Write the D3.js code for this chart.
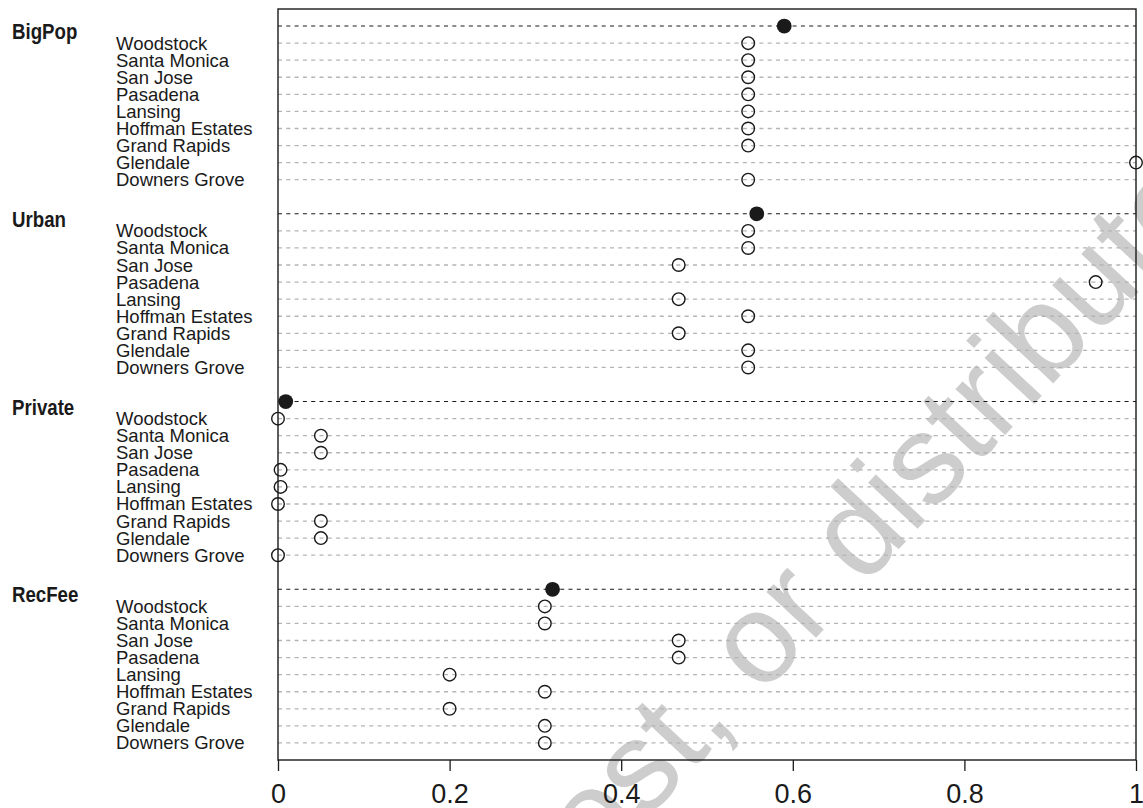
<!DOCTYPE html>
<html lang="en">
<head>
  <meta charset="UTF-8">
  <title>Dot chart by group</title>
  <script src="https://d3js.org/d3.v7.min.js"></script>
  <style>
    body { margin: 0; padding: 0; background: #fff; }
    svg { display: block; }
    .city { font-family: "Liberation Sans", Arial, sans-serif; font-size: 18.5px; fill: #1a1a1a; }
    .group { font-family: "Liberation Sans Narrow", "Liberation Sans", Arial, sans-serif; font-weight: bold; font-size: 22.5px; fill: #1a1a1a; }
    .x-axis text { font-family: "Liberation Sans", Arial, sans-serif; font-size: 27px; fill: #1a1a1a; }
    .x-axis line { stroke: #1a1a1a; stroke-width: 1.3px; }
  </style>
</head>
<body>
  <svg width="1143" height="808"></svg>
  <script>
    const groups = ["BigPop", "Urban", "Private", "RecFee"];
    const cities = ["Woodstock", "Santa Monica", "San Jose", "Pasadena", "Lansing",
                    "Hoffman Estates", "Grand Rapids", "Glendale", "Downers Grove"];
    const groupValues = [0.59, 0.558, 0.009, 0.32];
    const bigPop  = [0.548, 0.548, 0.548, 0.548, 0.548, 0.548, 0.548, 1.0, 0.548];
    const urban   = [0.548, 0.548, 0.467, 0.953, 0.467, 0.548, 0.467, 0.548, 0.548];
    const priv    = [0, 0.05, 0.05, 0.003, 0.003, 0, 0.05, 0.05, 0];
    const recFee  = [0.311, 0.311, 0.467, 0.467, 0.2, 0.311, 0.2, 0.311, 0.311];
    const cityValues = [bigPop, urban, priv, recFee];
    const xTicks = [0, 0.2, 0.4, 0.6, 0.8, 1];

    const svg = d3.select("svg");

    const x = d3.scaleLinear().domain([0, 1]).range([278, 1136]);
    // one row per group header and per city, one empty row between groups
    const y = d3.scaleLinear().domain([-1, 43]).range([9, 760]);

    const rows = [];
    groups.forEach((g, gi) => {
      rows.push({ label: g, value: groupValues[gi], row: gi * 11, isGroup: true });
      cities.forEach((c, ci) => {
        rows.push({ label: c, value: cityValues[gi][ci], row: gi * 11 + 1 + ci, isGroup: false });
      });
    });

    // watermark sits behind the chart
    svg.append("text")
      .attr("transform", "translate(40,1470) rotate(-47)")
      .attr("font-family", "Liberation Sans, Arial, sans-serif")
      .attr("font-size", 128)
      .attr("fill", "#cdcdcd")
      .text("Do not copy, post, or distribute");

    svg.append("g")
      .selectAll("line")
      .data(rows)
      .join("line")
      .attr("x1", x(0))
      .attr("x2", x(1))
      .attr("y1", d => y(d.row))
      .attr("y2", d => y(d.row))
      .attr("stroke", d => d.isGroup ? "#1a1a1a" : "#b4b4b4")
      .attr("stroke-width", d => d.isGroup ? 1.1 : 1.3)
      .attr("stroke-dasharray", "4,4.3");

    svg.append("g")
      .selectAll("text")
      .data(rows.filter(d => !d.isGroup))
      .join("text")
      .attr("class", "city")
      .attr("x", 116)
      .attr("y", d => y(d.row) + 6.5)
      .text(d => d.label);

    // group names are set in a condensed bold face
    svg.append("g")
      .selectAll("text")
      .data(rows.filter(d => d.isGroup))
      .join("text")
      .attr("class", "group")
      .attr("transform", d => `translate(12,${y(d.row) + 13}) scale(0.83,1)`)
      .text(d => d.label);

    svg.append("g")
      .selectAll("circle")
      .data(rows)
      .join("circle")
      .attr("cx", d => x(d.value))
      .attr("cy", d => y(d.row))
      .attr("r", d => d.isGroup ? 7.4 : 6.3)
      .attr("fill", d => d.isGroup ? "#1a1a1a" : "none")
      .attr("stroke", "#1a1a1a")
      .attr("stroke-width", d => d.isGroup ? 0 : 1.4);

    svg.append("rect")
      .attr("x", x(0))
      .attr("y", y(-1))
      .attr("width", x(1) - x(0))
      .attr("height", y(43) - y(-1))
      .attr("fill", "none")
      .attr("stroke", "#1a1a1a")
      .attr("stroke-width", 1.4);

    const xAxis = svg.append("g")
      .attr("class", "x-axis")
      .attr("transform", `translate(0,${y(43)})`)
      .call(d3.axisBottom(x)
        .tickValues(xTicks)
        .tickFormat(d3.format("~g"))
        .tickSize(11)
        .tickSizeOuter(0)
        .tickPadding(12.8));
    xAxis.select(".domain").remove();
  </script>
</body>
</html>
